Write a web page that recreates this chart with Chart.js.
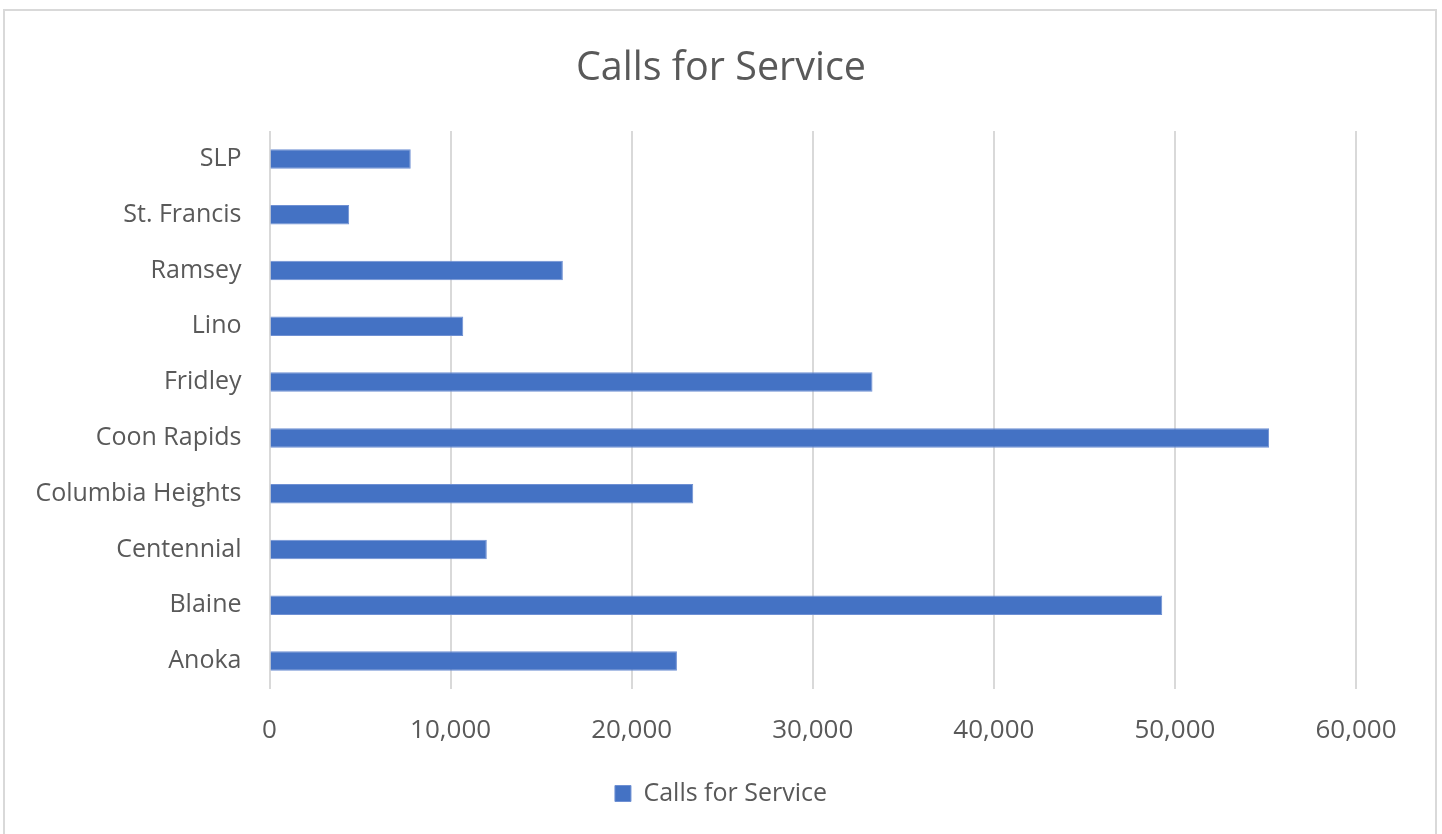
<!DOCTYPE html>
<html>
<head>
<meta charset="utf-8">
<script src="https://cdn.jsdelivr.net/npm/chart.js@4"></script>
<style>
  html, body { margin: 0; padding: 0; background: #fff; overflow: hidden; }
  #frame { position: absolute; left: 3px; top: 9px; width: 1430px; height: 900px; border: 2px solid #d9d9d9; }
  #esChart { position: absolute; left: 0; top: 0; }
</style>
</head>
<body>
<div id="frame"></div>
<canvas id="esChart" width="1442" height="834"></canvas>
<script>
// Excel order: first category is drawn at the bottom
const cities = ["Anoka", "Blaine", "Centennial", "Columbia Heights", "Coon Rapids",
                "Fridley", "Lino", "Ramsey", "St. Francis", "SLP"];
const callsForService = [22500, 49300, 12000, 23400, 55200, 33300, 10700, 16200, 4400, 7800];
const xTicks = [0, 10000, 20000, 30000, 40000, 50000, 60000];

const textGray = '#595959';
const fontFamily = '"Open Sans", "Noto Sans", sans-serif';

function createBarChart(labels, values) {
  const ctx = document.getElementById('esChart').getContext('2d');

  new Chart(ctx, {
    type: 'bar',
    data: {
      labels: labels,
      datasets: [{
        label: 'Calls for Service',
        data: values,
        backgroundColor: '#4472c4',
        borderColor: '#6f90d3',
        borderWidth: 1,
        categoryPercentage: 1,
        barPercentage: 0.35
      }]
    },
    options: {
      indexAxis: 'y',
      responsive: false,
      animation: false,
      layout: { padding: { top: 0, left: 10, right: 10, bottom: 18 } },
      plugins: {
        title: {
          display: true,
          text: 'Calls for Service',
          color: textGray,
          font: { family: fontFamily, size: 39.5, weight: 'normal' },
          padding: { top: 45, bottom: 38.6 }
        },
        legend: {
          position: 'bottom',
          labels: {
            color: textGray,
            font: { family: fontFamily, size: 25 },
            boxWidth: 16,
            boxHeight: 16
          }
        },
        tooltip: { enabled: false }
      },
      scales: {
        x: {
          min: xTicks[0],
          max: xTicks[xTicks.length - 1],
          afterBuildTicks: function(scale) {
            scale.ticks = xTicks.map(v => ({ value: v }));
          },
          afterFit: function(scale) { scale.height = 82; },
          grid: { color: '#d9d9d9', lineWidth: 2, drawTicks: false },
          border: { display: false },
          ticks: {
            color: textGray,
            padding: 26,
            font: { family: fontFamily, size: 26 },
            callback: v => v.toLocaleString('en-US')
          }
        },
        y: {
          reverse: true,
          afterFit: function(scale) { scale.width = 259.5; },
          grid: { display: false },
          border: { display: false },
          ticks: {
            color: textGray,
            padding: 20,
            font: { family: fontFamily, size: 25 }
          }
        },
        // empty right-hand spacer so the plot ends where the reference does
        spacer: {
          type: 'linear',
          axis: 'y',
          position: 'right',
          min: 0,
          max: 1,
          afterFit: function(scale) { scale.width = 76; },
          grid: { display: false },
          border: { display: false },
          ticks: { display: false }
        }
      }
    }
  });
}

createBarChart(cities, callsForService);
</script>
</body>
</html>
